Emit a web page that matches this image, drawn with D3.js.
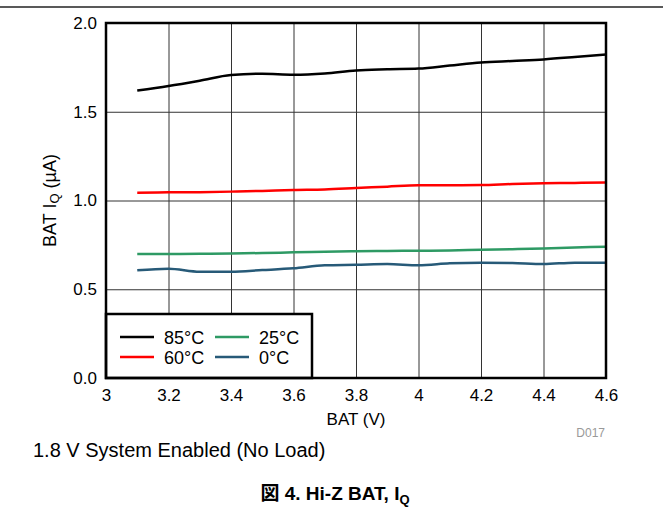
<!DOCTYPE html>
<html>
<head>
<meta charset="utf-8">
<script src="https://cdn.jsdelivr.net/npm/d3@7"></script>
<style>
  body { margin: 0; background: #fff; }
  text { font-family: "Liberation Sans", Arial, sans-serif; }
</style>
</head>
<body>
<div id="chart"></div>
<script>
// BAT voltage (V)
var batV = [3.1, 3.2, 3.3, 3.4, 3.5, 3.6, 3.7, 3.8, 3.9, 4.0, 4.1, 4.2, 4.3, 4.4, 4.5, 4.6];
// IQ (uA) per temperature
var iq85 = [1.619, 1.645, 1.675, 1.707, 1.714, 1.709, 1.716, 1.733, 1.739, 1.743, 1.760, 1.777, 1.786, 1.795, 1.808, 1.822];
var iq60 = [1.044, 1.046, 1.047, 1.050, 1.054, 1.059, 1.062, 1.070, 1.078, 1.086, 1.086, 1.087, 1.093, 1.097, 1.099, 1.102];
var iq25 = [0.699, 0.699, 0.700, 0.702, 0.704, 0.708, 0.711, 0.714, 0.716, 0.717, 0.719, 0.723, 0.726, 0.730, 0.735, 0.740];
var iq0  = [0.607, 0.616, 0.599, 0.599, 0.608, 0.618, 0.635, 0.638, 0.642, 0.635, 0.646, 0.650, 0.648, 0.642, 0.650, 0.650];
var seriesNames = ["85°C", "60°C", "25°C", "0°C"];
var seriesColors = ["#000000", "#ff0000", "#2e9a64", "#275a78"];
var xTicks = [3, 3.2, 3.4, 3.6, 3.8, 4, 4.2, 4.4, 4.6];
var yTicks = [0, 0.5, 1.0, 1.5, 2.0];

var W = 663, H = 512;
var margin = {top: 23, left: 106, right: 57, bottom: 134};
var width = W - margin.left - margin.right,
    height = H - margin.top - margin.bottom;
var font = "'Liberation Sans', Arial, sans-serif";

var svg = d3.select("#chart").append("svg")
    .attr("width", W).attr("height", H);

// top rule
svg.append("line")
    .attr("x1", 0).attr("x2", W).attr("y1", 7).attr("y2", 7)
    .attr("stroke", "#222").attr("stroke-width", 1.5);

var g = svg.append("g")
    .attr("transform", "translate(" + margin.left + "," + margin.top + ")");

var x = d3.scaleLinear().domain([3, 4.6]).range([0, width]);
var y = d3.scaleLinear().domain([0, 2]).range([height, 0]);

/* grid */
g.append("g")
    .call(d3.axisBottom(x).tickValues(xTicks).tickSize(height).tickFormat(""))
    .call(a => a.select(".domain").remove())
    .selectAll("line").attr("stroke", "#333").attr("stroke-width", 1);
g.append("g")
    .call(d3.axisLeft(y).tickValues(yTicks).tickSize(-width).tickFormat(""))
    .call(a => a.select(".domain").remove())
    .selectAll("line").attr("stroke", "#333").attr("stroke-width", 1);

/* tick labels */
var xAx = g.append("g")
    .attr("transform", "translate(0," + height + ")")
    .call(d3.axisBottom(x).tickValues(xTicks).tickSize(0).tickPadding(11)
        .tickFormat(d => d3.format("")(+d.toFixed(1))));
xAx.select(".domain").remove();
xAx.selectAll("text").attr("font-size", 17).attr("fill", "#000").style("font-family", font);

var yAx = g.append("g")
    .call(d3.axisLeft(y).tickValues(yTicks).tickSize(0).tickPadding(9)
        .tickFormat(d3.format(".1f")));
yAx.select(".domain").remove();
yAx.selectAll("text").attr("font-size", 17).attr("fill", "#000").style("font-family", font);

/* lines */
var allSeries = [iq85, iq60, iq25, iq0];
var line = d3.line()
    .x((d, i) => x(batV[i]))
    .y(d => y(d))
    .curve(d3.curveMonotoneX);

g.selectAll(".series")
    .data(allSeries).enter()
    .append("path")
    .attr("class", "series")
    .attr("d", d => line(d))
    .attr("fill", "none")
    .attr("stroke", (d, i) => seriesColors[i])
    .attr("stroke-width", 2.5);

/* legend */
var leg = g.append("g").attr("transform", "translate(0," + (height - 64) + ")");
leg.append("rect")
    .attr("x", 0).attr("y", 0).attr("width", 206).attr("height", 64)
    .attr("fill", "#fff").attr("stroke", "#000").attr("stroke-width", 2.5);
var items = leg.selectAll(".item")
    .data(seriesNames).enter()
    .append("g")
    .attr("transform", (d, i) => "translate(" + (i < 2 ? 14 : 109) + "," + (23 + (i % 2) * 20) + ")");
items.append("line")
    .attr("x1", 0).attr("x2", 34).attr("y1", 0).attr("y2", 0)
    .attr("stroke", (d, i) => seriesColors[i]).attr("stroke-width", 2.5);
items.append("text")
    .attr("x", 44).attr("y", 6.5)
    .attr("font-size", 18)
    .text(d => d);

/* frame */
g.append("rect")
    .attr("width", width).attr("height", height)
    .attr("fill", "none").attr("stroke", "#000").attr("stroke-width", 2.5);

/* axis titles */
g.append("text")
    .attr("x", width / 2).attr("y", height + 47)
    .attr("text-anchor", "middle").attr("font-size", 17)
    .text("BAT (V)");

var yl = svg.append("text")
    .attr("transform", "translate(56," + (margin.top + y(1)) + ") rotate(-90)")
    .attr("text-anchor", "middle").attr("font-size", 18);
yl.append("tspan").text("BAT I");
yl.append("tspan").attr("font-size", 13).attr("dy", 3).text("Q");
yl.append("tspan").attr("dy", -3).text(" (µA)");

svg.append("text")
    .attr("x", 605).attr("y", 437)
    .attr("text-anchor", "end").attr("font-size", 12).attr("fill", "#999")
    .text("D017");

svg.append("text")
    .attr("x", 33).attr("y", 457)
    .attr("font-size", 20)
    .text("1.8 V System Enabled (No Load)");

var cap = svg.append("text")
    .attr("x", 335).attr("y", 500)
    .attr("text-anchor", "middle").attr("font-size", 19).attr("font-weight", "bold");
cap.append("tspan").style("font-family", "'Noto Sans CJK JP', sans-serif").text("図");
cap.append("tspan").text(" 4. Hi-Z BAT, I");
cap.append("tspan").attr("font-size", 13).attr("dy", 4).text("Q");
</script>
</body>
</html>
